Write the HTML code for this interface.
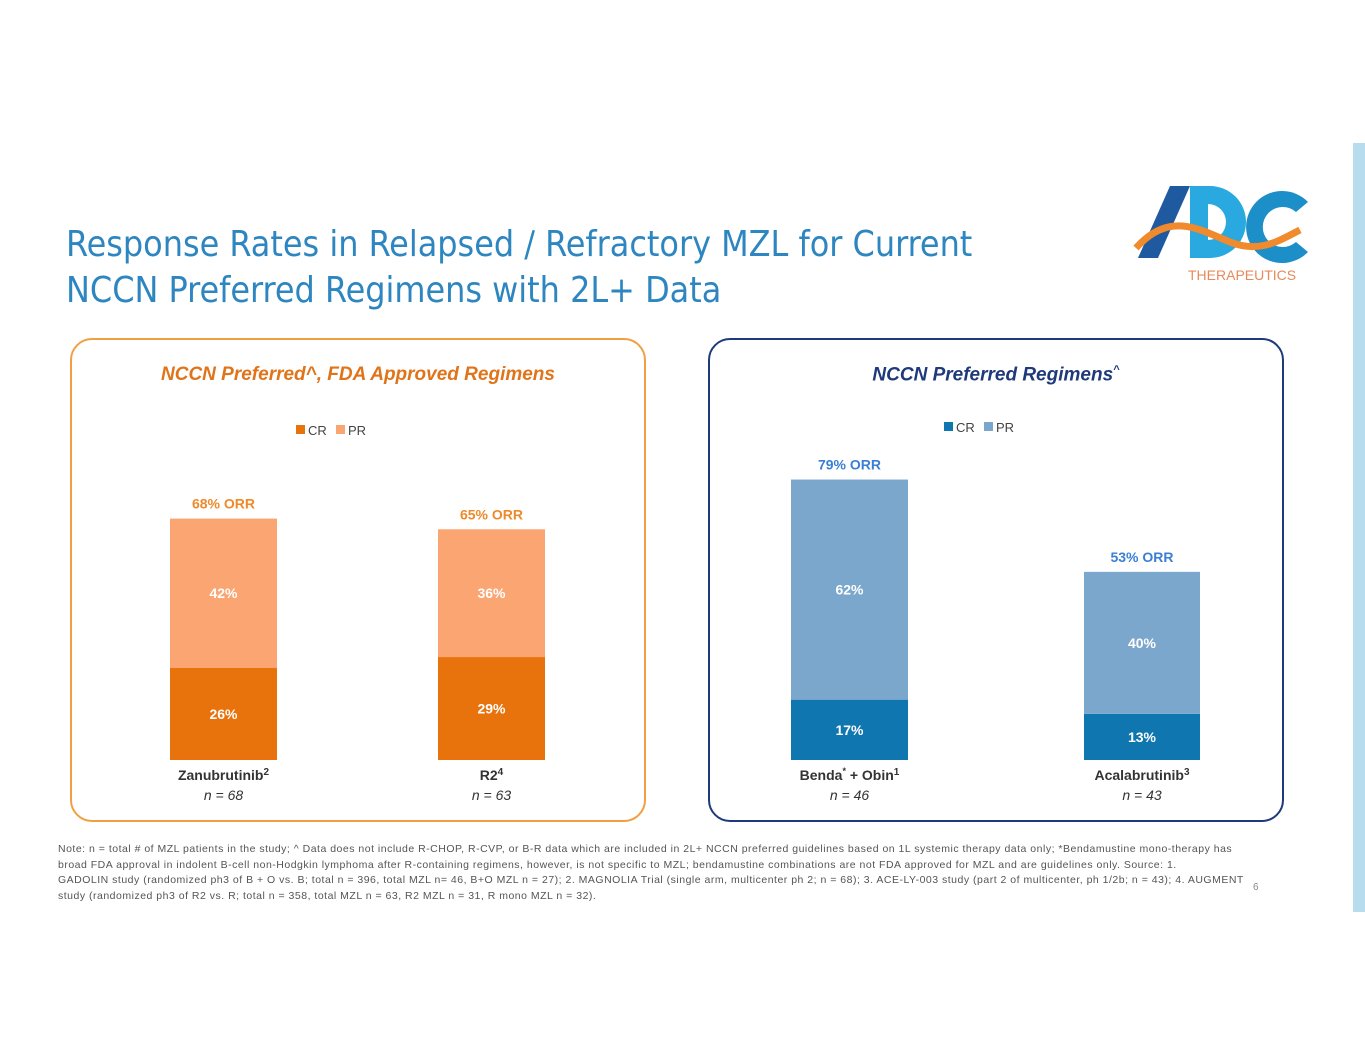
<!DOCTYPE html>
<html><head><meta charset="utf-8"><style>
body{margin:0;width:1365px;height:1055px;background:#fff;position:relative;overflow:hidden;font-family:"Liberation Sans",sans-serif}
.t{position:absolute}
</style></head><body>
<div class="t" style="left:66px;top:222px;font-size:35.5px;line-height:46px;color:#2e86c1;font-family:'DejaVu Sans Condensed','Liberation Sans',sans-serif">Response Rates in Relapsed / Refractory MZL for Current<br>NCCN Preferred Regimens with 2L+ Data</div>
<div class="t" style="left:1353px;top:143px;width:12px;height:769px;background:#b7dcee"></div>
<svg class="t" style="left:1130px;top:180px" width="190" height="110">
<polygon points="8,78 40,6 60,6 28,78" fill="#1f5aa0"/>
<path d="M60,6 h20 a36,36 0 0 1 0,72 h-20 z M78,24 v36 a18,18 0 0 0 0,-36z" fill="#29a9e0" fill-rule="evenodd"/>
<path d="M178,22 a36,36 0 1 0 0,50 l-12,-10 a20,20 0 1 1 0,-30 z" fill="#1d8fc8"/>
<path d="M6,68 C40,30 70,50 100,62 C130,74 150,60 170,50" stroke="#f08a2c" stroke-width="7" fill="none"/>
<text x="58" y="100" font-size="14" fill="#e8895a" font-family="Liberation Sans">THERAPEUTICS</text>
</svg>
<div class="t" style="left:70px;top:338px;width:572px;height:480px;border:2px solid #f0a042;border-radius:22px"></div>
<div class="t" style="left:708px;top:338px;width:572px;height:480px;border:2px solid #1f3a7a;border-radius:22px"></div>
<div class="t" style="left:70px;width:576px;top:364px;text-align:center;font-size:19px;font-weight:bold;font-style:italic;color:#e0741a">NCCN Preferred^, FDA Approved Regimens</div>
<div class="t" style="left:708px;width:576px;top:364px;text-align:center;font-size:19px;font-weight:bold;font-style:italic;color:#1f3a7a">NCCN Preferred Regimens<sup style="font-size:11px">^</sup></div>
<svg id="chart" class="t" style="left:0;top:0" width="1365" height="1055"></svg>
<div class="t" style="left:58px;top:842px;white-space:nowrap;font-size:10.5px;letter-spacing:0.5px;line-height:15.5px;color:#555">Note: n = total # of MZL patients in the study; ^ Data does not include R-CHOP, R-CVP, or B-R data which are included in 2L+ NCCN preferred guidelines based on 1L systemic therapy data only; *Bendamustine mono-therapy has<br>broad FDA approval in indolent B-cell non-Hodgkin lymphoma after R-containing regimens, however, is not specific to MZL; bendamustine combinations are not FDA approved for MZL and are guidelines only. Source: 1.<br>GADOLIN study (randomized ph3 of B + O vs. B; total n = 396, total MZL n= 46, B+O MZL n = 27); 2. MAGNOLIA Trial (single arm, multicenter ph 2; n = 68); 3. ACE-LY-003 study (part 2 of multicenter, ph 1/2b; n = 43); 4. AUGMENT<br>study (randomized ph3 of R2 vs. R; total n = 358, total MZL n = 63, R2 MZL n = 31, R mono MZL n = 32).</div>
<div class="t" style="left:1253px;top:882px;font-size:10px;color:#888">6</div>
<script>
const categories=["Zanubrutinib","R2","Benda + Obin","Acalabrutinib"];
const sups=["2","4","1","3"];
const nLabels=["n = 68","n = 63","n = 46","n = 43"];
const crValues=[26,29,17,13];
const prValues=[42,36,62,40];
const orrValues=[68,65,79,53];
const svg=document.getElementById('chart');
const NS='http://www.w3.org/2000/svg';
const baseY=760, pxPer=3.55;
const xs=[170,438,791,1084], ws=[107,107,117,116];
const crCol=['#e8730c','#e8730c','#0f76b0','#0f76b0'], prCol=['#fba572','#fba572','#7ba7cd','#7ba7cd'];
const orrCol=['#ee8a2b','#ee8a2b','#3a7fd5','#3a7fd5'];
function y(v){return baseY-v*pxPer;}
function el(tag,a,txt){const e=document.createElementNS(NS,tag);for(const k in a)e.setAttribute(k,a[k]);if(txt!==undefined)e.textContent=txt;svg.appendChild(e);return e;}
categories.forEach((c,i)=>{
 const cx=xs[i]+ws[i]/2;
 const cr=el('rect',{x:xs[i],y:y(crValues[i]),width:ws[i],height:crValues[i]*pxPer,fill:crCol[i]});
 
 
 const tot=crValues[i]+prValues[i];
 const pr=el('rect',{x:xs[i],y:y(tot),width:ws[i],height:prValues[i]*pxPer,fill:prCol[i]});
 
 
 const t1=el('text',{x:cx,y:y(crValues[i]/2)+5,'text-anchor':'middle','font-size':14,'font-weight':'bold',fill:'#fff'},crValues[i]+'%');
 
 
 const t2=el('text',{x:cx,y:y(crValues[i]+prValues[i]/2)+5,'text-anchor':'middle','font-size':14,'font-weight':'bold',fill:'#fff'},prValues[i]+'%');
 
 
 const t3=el('text',{x:cx,y:y(orrValues[i])-10,'text-anchor':'middle','font-size':14,'font-weight':'bold',fill:orrCol[i]},orrValues[i]+'% ORR');
 
 
 const t4=el('text',{x:cx,y:780,'text-anchor':'middle','font-size':14,'font-weight':'bold',fill:'#333'});
 
 
 if(i===2){t4.innerHTML='Benda<tspan dy="-6" font-size="9">*</tspan><tspan dy="6"> + Obin</tspan><tspan dy="-5" font-size="10">1</tspan>';}
 else t4.innerHTML=c+'<tspan dy="-5" font-size="10">'+sups[i]+'</tspan>';
 const t5=el('text',{x:cx,y:800,'text-anchor':'middle','font-size':14,'font-style':'italic',fill:'#333'},nLabels[i]);
 
 
});
[[296,434,'#e8730c','#fba572'],[944,431,'#0f76b0','#7ba7cd']].forEach((L,j)=>{
 const a=el('rect',{x:L[0],y:L[1]-9,width:9,height:9,fill:L[2]});
 
 
 const b=el('text',{x:L[0]+12,y:L[1]+1,'font-size':13,fill:'#444'},'CR');
 
 
 const c=el('rect',{x:L[0]+40,y:L[1]-9,width:9,height:9,fill:L[3]});
 
 
 const d=el('text',{x:L[0]+52,y:L[1]+1,'font-size':13,fill:'#444'},'PR');
 
 
});
</script>
</body></html>
